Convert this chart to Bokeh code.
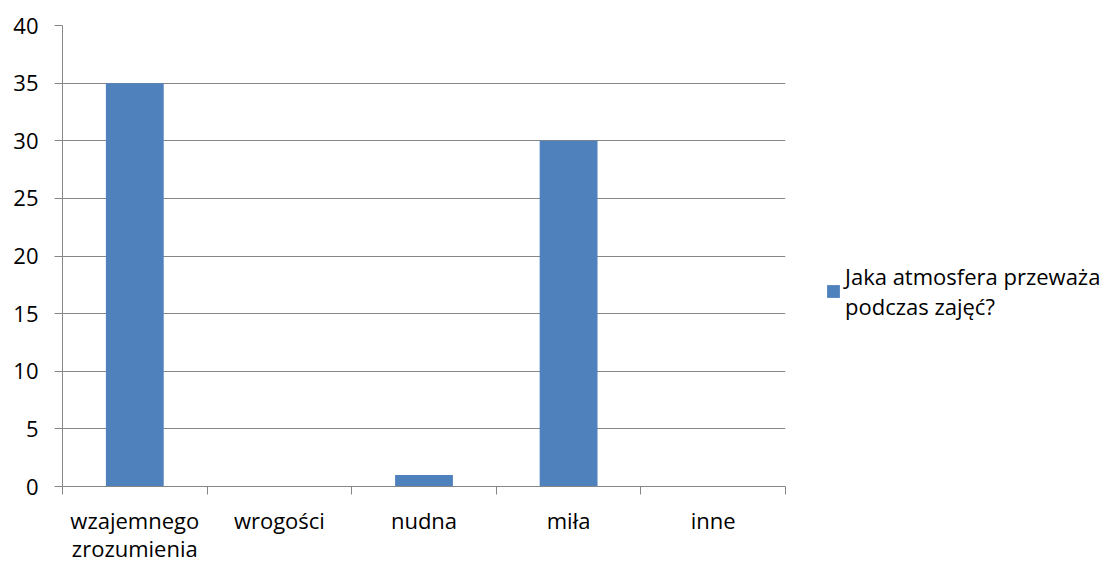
from bokeh.plotting import figure
from bokeh.models import FixedTicker, Legend, LegendItem, Range1d, ColumnDataSource
from bokeh.embed import file_html
from bokeh.resources import INLINE

categories = ["wzajemnego\nzrozumienia", "wrogości", "nudna", "miła", "inne"]
values = [35, 0, 1, 30, 0]
series_name = "Jaka atmosfera przeważa\npodczas zajęć?"
y_ticks = [0, 5, 10, 15, 20, 25, 30, 35, 40]

FONT = "Open Sans"
GREY = "#868686"

centers = [i + 0.5 for i in range(len(categories))]
bounds = list(range(len(categories) + 1))

src = ColumnDataSource(dict(x=centers, top=values))

p = figure(frame_width=723, frame_height=461, x_range=Range1d(0, len(categories)),
           y_range=Range1d(0, 40), output_backend="svg", toolbar_location=None,
           min_border_left=62, min_border_top=25, min_border_right=330,
           min_border_bottom=77)
p.outline_line_color = None

r = p.vbar(x="x", top="top", width=0.4, source=src, fill_color="#4F81BD",
           line_color=None)

# x axis
xa = p.xaxis[0]
xa.ticker = FixedTicker(ticks=centers, minor_ticks=bounds)
xa.major_label_overrides = {c: lab for c, lab in zip(centers, categories)}
xa.major_tick_in = 0
xa.major_tick_out = 0
xa.minor_tick_in = 0
xa.minor_tick_out = 8
xa.minor_tick_line_color = GREY
xa.axis_line_color = GREY
xa.major_label_standoff = 10
xa.major_label_text_font = FONT
xa.major_label_text_font_size = "22px"
xa.major_label_text_line_height = 0.95
xa.major_label_text_color = "#000000"

# y axis
ya = p.yaxis[0]
ya.ticker = FixedTicker(ticks=y_ticks)
ya.major_tick_in = 0
ya.major_tick_out = 8
ya.major_tick_line_color = GREY
ya.minor_tick_line_color = None
ya.axis_line_color = GREY
ya.major_label_standoff = 16
ya.major_label_text_font = FONT
ya.major_label_text_font_size = "22px"
ya.major_label_text_color = "#000000"

p.xgrid.grid_line_color = None
p.ygrid.ticker = FixedTicker(ticks=y_ticks)
p.ygrid.grid_line_color = GREY

legend = Legend(items=[LegendItem(label=series_name, renderers=[r])],
                location=(40, 165), padding=10, margin=0,
                border_line_color=None, background_fill_alpha=0,
                label_text_font=FONT, label_text_font_size="22px",
                label_text_line_height=1.05,
                label_text_color="#000000", glyph_width=16, glyph_height=16,
                label_standoff=4)
p.add_layout(legend, "right")

open("out.html", "w").write(file_html(p, INLINE))
